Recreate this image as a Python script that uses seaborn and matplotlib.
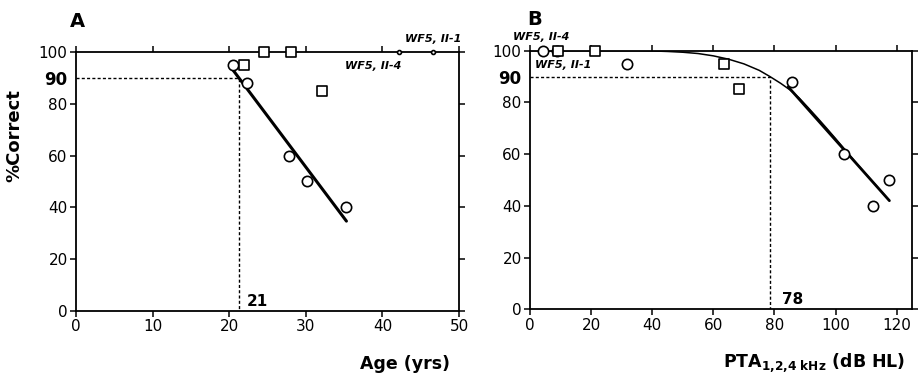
import matplotlib
matplotlib.use("Agg")
import matplotlib.pyplot as plt
import seaborn as sns
import pandas as pd

# ---------------- data ----------------
# Panel A: % correct vs age
a_circ_x = [20.5, 22.3, 27.8, 30.2, 35.2]
a_circ_y = [95, 88, 60, 50, 40]
a_sq_x = [21.9, 24.5, 28.0, 32.1]
a_sq_y = [95, 100, 100, 85]
a_small_x = [42.1, 46.6]          # WF5 II-4, WF5 II-1
a_small_y = [100, 100]
a_fit_x = [20.5, 35.3]
a_fit_y = [93, 34.7]
a_thr_x = [0, 21.3, 21.3]
a_thr_y = [90, 90, 0]
a_thr_label = "21"

# Panel B: % correct vs PTA
b_circ_x = [4.4, 8.7, 31.6, 85.6, 102.9, 117.5, 112.3]
b_circ_y = [100, 100, 95, 88, 60, 50, 40]
b_sq_x = [9.2, 21.3, 63.6, 68.5]
b_sq_y = [100, 100, 95, 85]
b_curve_x = [0, 20, 35, 40, 45, 50, 55, 60, 65, 70, 75, 78.5, 82, 85, 88,
             91, 94, 97, 100, 103, 106, 110, 114, 117.6]
b_curve_y = [100, 100, 100, 99.9, 99.7, 99.4, 98.9, 98.0, 96.7, 94.9, 92.4, 90.0, 87.4,
             84.9, 81.8, 78.0, 74.1, 70.1, 66.0, 61.8, 57.6, 52.2, 46.9, 42.0]
b_fit_x = [84.5, 117.6]
b_fit_y = [86, 42]
b_thr_x = [0, 78.5, 78.5]
b_thr_y = [90, 90, 0]
b_thr_label = "78"

yticks = [0, 20, 40, 60, 80, 90, 100]
a_xticks = [0, 10, 20, 30, 40, 50]
b_xticks = [0, 20, 40, 60, 80, 100, 120]

# ---------------- style ----------------
sns.set_style("ticks")
plt.rcParams["font.family"] = ["DejaVu Sans"]
plt.rcParams["axes.linewidth"] = 1.3
for k in ["text.color", "axes.labelcolor", "xtick.color", "ytick.color", "axes.edgecolor"]:
    plt.rcParams[k] = "black"

fig = plt.figure(figsize=(9.19, 3.76), dpi=100)
axA = fig.add_axes([0.0827, 0.1729, 0.4168, 0.6888])
axB = fig.add_axes([0.5767, 0.1774, 0.4157, 0.6878])

mk = dict(facecolor="white", edgecolor="black", linewidth=1.2, clip_on=False, zorder=5)


def style_axis(ax, xlim, xticks):
    ax.set_xlim(*xlim)
    ax.set_ylim(0, 100)
    ax.set_xticks(xticks)
    ax.set_yticks(yticks)
    ax.set_yticklabels([str(v) for v in yticks])
    for s in ax.spines.values():
        s.set_visible(True)
        s.set_linewidth(1.3)
        s.set_color("black")
    ax.tick_params(axis="both", which="both", direction="out", length=4.5, width=1.1,
                   top=True, right=True, labeltop=False, labelright=False,
                   labelsize=11, pad=1.5, colors="black")
    t90 = ax.yaxis.get_major_ticks()[5]
    t90.tick1line.set_visible(False)
    t90.tick2line.set_visible(False)
    for lab in ax.get_yticklabels():
        if lab.get_text() == "90":
            lab.set_fontweight("bold")
            lab.set_fontsize(12)
    ax.set_xlabel("")
    ax.set_ylabel("")


def line(ax, xs, ys, **kw):
    df = pd.DataFrame({"x": xs, "y": ys})
    sns.lineplot(data=df, x="x", y="y", ax=ax, sort=False, estimator=None,
                 color="black", **kw)


# ---- Panel A ----
line(axA, a_thr_x, a_thr_y, linewidth=1.0, linestyle=(0, (2.2, 1.6)))
line(axA, a_fit_x, a_fit_y, linewidth=2.2)
sns.scatterplot(x=a_circ_x, y=a_circ_y, marker="o", s=55, ax=axA, **mk)
sns.scatterplot(x=a_sq_x, y=a_sq_y, marker="s", s=55, ax=axA, **mk)
sns.scatterplot(x=a_small_x, y=a_small_y, marker="o", s=8, ax=axA, **mk)
style_axis(axA, (0, 50), a_xticks)
axA.text(22.3, 1.8, a_thr_label, fontsize=11, fontweight="bold", ha="left", va="baseline")
axA.text(46.6, 103, "WF5, II-1", fontsize=8, fontweight="bold", style="italic",
         ha="center", va="bottom", clip_on=False)
axA.text(38.8, 96.5, "WF5, II-4", fontsize=8, fontweight="bold", style="italic",
         ha="center", va="top", clip_on=False)

# ---- Panel B ----
line(axB, b_thr_x, b_thr_y, linewidth=1.0, linestyle=(0, (2.2, 1.6)))
line(axB, b_curve_x, b_curve_y, linewidth=1.1)
line(axB, b_fit_x, b_fit_y, linewidth=2.0)
sns.scatterplot(x=b_circ_x, y=b_circ_y, marker="o", s=55, ax=axB, **mk)
sns.scatterplot(x=b_sq_x, y=b_sq_y, marker="s", s=55, ax=axB, **mk)
style_axis(axB, (0, 125), b_xticks)
axB.text(82.4, 2.0, b_thr_label, fontsize=11, fontweight="bold", ha="left", va="baseline")
axB.text(3.7, 103.5, "WF5, II-4", fontsize=8, fontweight="bold", style="italic",
         ha="center", va="bottom", clip_on=False)
axB.text(1.7, 96.5, "WF5, II-1", fontsize=8, fontweight="bold", style="italic",
         ha="left", va="top", clip_on=False)

# ---- labels ----
fig.text(70 / 919, 1 - 27 / 376, "A", fontsize=14, fontweight="bold", ha="left", va="baseline")
fig.text(527 / 919, 1 - 25 / 376, "B", fontsize=14, fontweight="bold", ha="left", va="baseline")
fig.text(14 / 919, 1 - 136 / 376, "%Correct", fontsize=13, fontweight="bold",
         rotation=90, ha="center", va="center")
fig.text(450 / 919, 1 - 369 / 376, "Age (yrs)", fontsize=12.5, fontweight="bold",
         ha="right", va="baseline")
fig.text(905 / 919, 1 - 367 / 376, r"PTA$_{\mathbf{1{,}2{,}4\ kHz}}$ (dB HL)", fontsize=12.5,
         fontweight="bold", ha="right", va="baseline")

fig.savefig("out.png", dpi=100)
